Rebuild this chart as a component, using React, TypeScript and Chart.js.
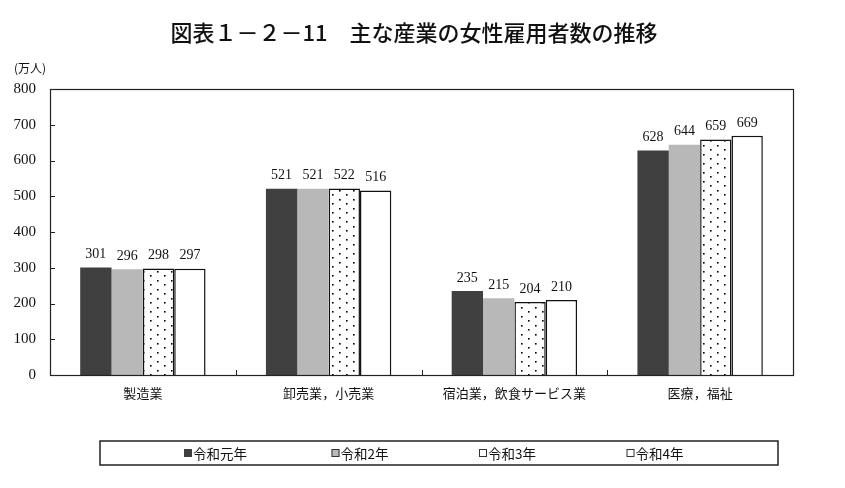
import React, { useEffect, useRef } from "react";
import { Chart, registerables } from "chart.js";

Chart.register(...registerables);

const TITLE = "図表１－２－11　主な産業の女性雇用者数の推移";
const UNIT = "(万人)";
const categories = ["製造業", "卸売業，小売業", "宿泊業，飲食サービス業", "医療，福祉"];
const seriesNames = ["令和元年", "令和2年", "令和3年", "令和4年"];
const r1 = [301, 521, 235, 628];
const r2 = [296, 521, 215, 644];
const r3 = [298, 522, 204, 659];
const r4 = [297, 516, 210, 669];
const yTicks = [0, 100, 200, 300, 400, 500, 600, 700, 800];

const SANS = '"Noto Sans CJK JP", "Noto Sans", sans-serif';
const SERIF = '"Liberation Serif", "DejaVu Serif", serif';

function makeDots(): CanvasPattern | string {
  const c = document.createElement("canvas");
  c.width = 14;
  c.height = 9;
  const g = c.getContext("2d");
  if (!g) return "#fff";
  g.fillStyle = "#ffffff";
  g.fillRect(0, 0, 14, 9);
  g.fillStyle = "#000000";
  [[3, 1], [10, 5]].forEach(([x, y]) => g.fillRect(x, y, 1.6, 1.6));
  const p = g.createPattern(c, "repeat");
  return p || "#fff";
}

const framePlugin = {
  id: "frame",
  afterDraw(chart: any) {
    const { ctx, chartArea: a } = chart;
    ctx.save();
    ctx.strokeStyle = "#222";
    ctx.lineWidth = 1.2;
    ctx.strokeRect(a.left + 0.5, a.top + 0.5, a.right - a.left, a.bottom - a.top);
    const ys = chart.scales.y;
    ctx.lineWidth = 1;
    yTicks.forEach((v) => {
      const y = Math.round(ys.getPixelForValue(v)) + 0.5;
      ctx.beginPath();
      ctx.moveTo(a.left, y);
      ctx.lineTo(a.left + 5, y);
      ctx.stroke();
    });
    const n = categories.length;
    const w = (a.right - a.left) / n;
    for (let i = 1; i < n; i++) {
      const x = Math.round(a.left + i * w) + 0.5;
      ctx.beginPath();
      ctx.moveTo(x, a.bottom);
      ctx.lineTo(x, a.bottom - 5);
      ctx.stroke();
    }
    ctx.fillStyle = "#111";
    ctx.font = `500 22px ${SANS}`;
    ctx.textAlign = "center";
    ctx.textBaseline = "middle";
    ctx.fillText(TITLE, 414, 33);
    ctx.font = `12px ${SANS}`;
    ctx.textAlign = "left";
    ctx.fillText(UNIT, 14, 68);
    const bx = 100, by = 441, bw = 678, bh = 24;
    ctx.lineWidth = 1.5;
    ctx.strokeStyle = "#222";
    ctx.strokeRect(bx, by, bw, bh);
    ctx.font = `13.5px ${SANS}`;
    ctx.textBaseline = "middle";
    const fills = ["#404040", "#b8b8b8", "#ffffff", "#ffffff"];
    seriesNames.forEach((name, i) => {
      const x = bx + 84 + i * 147.5;
      const cy = by + bh / 2;
      ctx.fillStyle = fills[i];
      ctx.fillRect(x, cy - 4, 8, 8);
      ctx.lineWidth = 1;
      ctx.strokeStyle = i === 0 ? "#404040" : "#333";
      ctx.strokeRect(x + 0.5, cy - 3.5, 7, 7);
      ctx.fillStyle = "#111";
      ctx.fillText(name, x + 9, cy + 0.5);
    });
    ctx.restore();
  },
};

const labelPlugin = {
  id: "vlabels",
  afterDatasetsDraw(chart: any) {
    const { ctx } = chart;
    ctx.save();
    ctx.font = `14px ${SERIF}`;
    ctx.fillStyle = "#111";
    ctx.textAlign = "center";
    ctx.textBaseline = "bottom";
    chart.data.datasets.forEach((ds: any, di: number) => {
      const meta = chart.getDatasetMeta(di);
      meta.data.forEach((el: any, i: number) => {
        ctx.fillText(String(ds.data[i]), el.x, el.y - 6);
      });
    });
    ctx.restore();
  },
};

export default function App() {
  const ref = useRef<HTMLCanvasElement>(null);
  useEffect(() => {
    document.body.style.margin = "0";
    const canvas = ref.current;
    if (!canvas) return;
    const dots = makeDots();
    const chart = new Chart(canvas, {
      type: "bar",
      data: {
        labels: categories,
        datasets: [
          { label: seriesNames[0], data: r1, backgroundColor: "#404040", borderColor: "#404040", borderWidth: 0 },
          { label: seriesNames[1], data: r2, backgroundColor: "#b8b8b8", borderColor: "#b8b8b8", borderWidth: 0 },
          { label: seriesNames[2], data: r3, backgroundColor: dots as any, borderColor: "#111", borderWidth: 1.5 },
          { label: seriesNames[3], data: r4, backgroundColor: "#ffffff", borderColor: "#111", borderWidth: 1.5 },
        ],
      },
      options: {
        responsive: false,
        animation: false,
        devicePixelRatio: 1,
        layout: { padding: { top: 89, right: 52, left: 0, bottom: 0 } },
        plugins: { legend: { display: false }, tooltip: { enabled: false }, title: { display: false } },
        datasets: { bar: { categoryPercentage: 0.675, barPercentage: 1 } },
        scales: {
          x: {
            grid: { display: false, drawTicks: false },
            border: { display: false },
            ticks: { color: "#111", font: { family: SANS, size: 13 }, padding: 10, maxRotation: 0, autoSkip: false },
            afterFit: (s: any) => { s.height = 113; },
          },
          y: {
            min: 0,
            max: 800,
            grid: { display: false, drawTicks: false },
            border: { display: false },
            ticks: { stepSize: 100, color: "#111", font: { family: SERIF, size: 15 }, padding: 14 },
            afterFit: (s: any) => { s.width = 50; },
          },
        },
      },
      plugins: [labelPlugin, framePlugin],
    });
    return () => chart.destroy();
  }, []);
  return (
    <div style={{ width: 845, height: 488, background: "#fff" }}>
      <canvas ref={ref} width={845} height={488} style={{ display: "block" }} />
    </div>
  );
}
